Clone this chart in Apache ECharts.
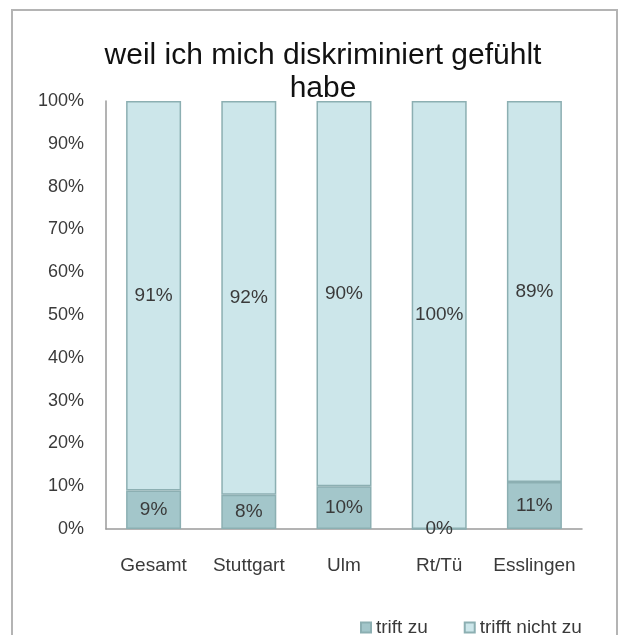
<!DOCTYPE html>
<html>
<head>
<meta charset="utf-8">
<script src="https://cdn.jsdelivr.net/npm/echarts@6/dist/echarts.min.js"></script>
<style>
html,body{margin:0;padding:0;background:#fff;}
#main{width:620px;height:635px;}
</style>
</head>
<body>
<div id="main"></div>
<script>
var titleText = 'weil ich mich diskriminiert gefühlt\nhabe';
var categories = ['Gesamt', 'Stuttgart', 'Ulm', 'Rt/Tü', 'Esslingen'];
var seriesNames = ['trift zu', 'trifft nicht zu'];
var triftZu = [9, 8, 10, 0, 11];
var trifftNichtZu = [91, 92, 90, 100, 89];
var yTicks = [0, 10, 20, 30, 40, 50, 60, 70, 80, 90, 100];

var FONT = '"Liberation Sans", Arial, sans-serif';
var TXT = '#3a3a3a';

var chart = echarts.init(document.getElementById('main'), null, {renderer: 'canvas'});
chart.setOption({
  backgroundColor: '#ffffff',
  animation: false,
  graphic: [{
    type: 'rect', z: -10, silent: true,
    shape: {x: 12, y: 10, width: 605, height: 640},
    style: {fill: 'none', stroke: '#b4b4b4', lineWidth: 2}
  }],
  title: {
    text: titleText,
    left: 318,
    top: 34,
    textAlign: 'center',
    textStyle: {fontFamily: FONT, fontSize: 30, fontWeight: 'normal', color: '#111', lineHeight: 33}
  },
  legend: {
    data: seriesNames,
    left: 355,
    top: 613,
    icon: 'rect',
    itemWidth: 10,
    itemHeight: 10,
    itemGap: 36,
    textStyle: {fontFamily: FONT, fontSize: 19, color: TXT}
  },
  grid: {left: 106, right: 38, top: 101, bottom: 106, containLabel: false},
  xAxis: {
    type: 'category',
    data: categories,
    axisLine: {lineStyle: {color: '#9a9a9a', width: 1.5}},
    axisTick: {show: false},
    axisLabel: {interval: 0, fontFamily: FONT, fontSize: 19, color: TXT, margin: 27}
  },
  yAxis: {
    type: 'value',
    min: yTicks[0],
    max: yTicks[yTicks.length - 1],
    interval: yTicks[1] - yTicks[0],
    axisLine: {show: true, lineStyle: {color: '#9a9a9a', width: 1.5}},
    axisTick: {show: false},
    splitLine: {show: false},
    axisLabel: {fontFamily: FONT, fontSize: 18, color: TXT, margin: 22, formatter: '{value}%'}
  },
  series: [{
    name: seriesNames[0],
    type: 'bar',
    stack: 'total',
    barWidth: 55,
    data: triftZu,
    itemStyle: {color: '#a3c6ca', borderColor: '#8cafb2', borderWidth: 1.5},
    label: {show: true, position: 'inside', formatter: '{c}%', fontFamily: FONT, fontSize: 19, color: TXT}
  }, {
    name: seriesNames[1],
    type: 'bar',
    stack: 'total',
    barWidth: 55,
    data: trifftNichtZu,
    itemStyle: {color: '#cce6ea', borderColor: '#8cafb2', borderWidth: 1.5},
    label: {show: true, position: 'inside', formatter: '{c}%', fontFamily: FONT, fontSize: 19, color: TXT}
  }]
});
</script>
</body>
</html>
